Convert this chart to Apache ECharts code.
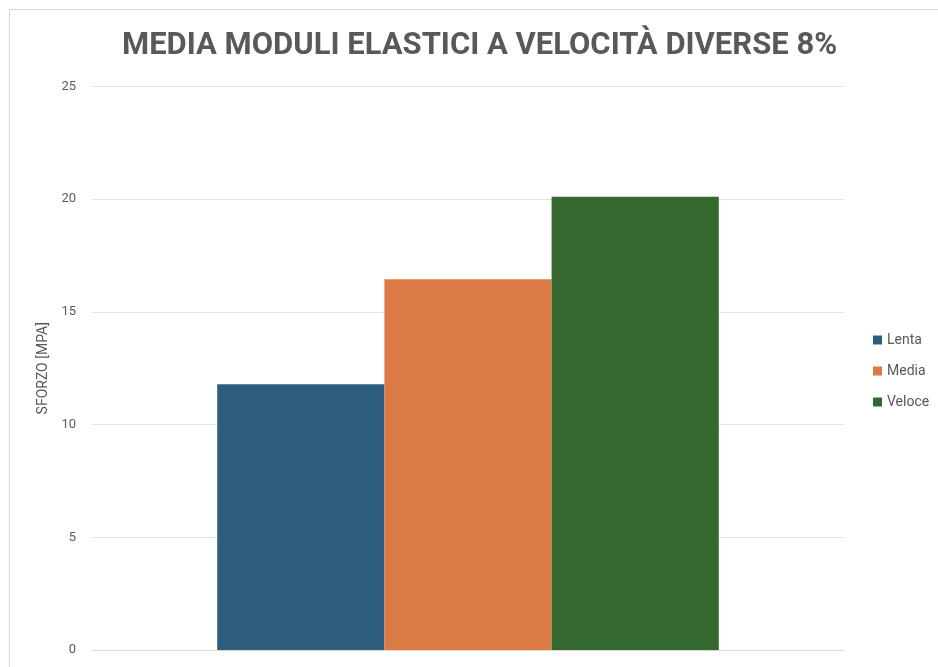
<!DOCTYPE html>
<html>
<head>
<meta charset="utf-8">
<script src="https://cdn.jsdelivr.net/npm/echarts@6/dist/echarts.min.js"></script>
<style>
  html, body { margin: 0; padding: 0; background: #fff; }
  #chart { width: 938px; height: 667px; }
</style>
</head>
<body>
<div id="chart"></div>
<script>
// Average elastic modulus per test speed (8% strain)
const categories = ['8%'];
const seriesNames = ['Lenta', 'Media', 'Veloce'];
const lentaValues = [11.79];
const mediaValues = [16.45];
const veloceValues = [20.11];
const yTicks = [0, 5, 10, 15, 20, 25];

const colors = ['#2d5e7e', '#dc7a45', '#34682e'];
const textColor = '#595959';
const fontFamily = 'Roboto, "Noto Sans", sans-serif';

const chart = echarts.init(document.getElementById('chart'), null, { renderer: 'canvas' });

const valueSets = [lentaValues, mediaValues, veloceValues];

chart.setOption({
  animation: false,
  backgroundColor: '#ffffff',
  color: colors,
  title: {
    text: 'MEDIA MODULI ELASTICI A VELOCITÀ DIVERSE 8%',
    left: 122,
    top: 31,
    padding: 0,
    textStyle: {
      color: textColor,
      fontFamily: fontFamily,
      fontWeight: 'bold',
      fontSize: 31
    }
  },
  graphic: [{
    type: 'rect',
    shape: { x: 9.5, y: 9.5, width: 1000, height: 1000 },
    style: { fill: 'none', stroke: '#d9d9d9', lineWidth: 1 },
    silent: true,
    z: -1
  }],
  legend: {
    orient: 'vertical',
    left: 868,
    top: 328,
    itemWidth: 9,
    itemHeight: 9,
    itemGap: 17,
    icon: 'rect',
    data: seriesNames,
    textStyle: { color: textColor, fontFamily: fontFamily, fontSize: 14 }
  },
  grid: {
    left: 92,
    right: 94,
    top: 86.5,
    bottom: 17,
    containLabel: false
  },
  xAxis: {
    type: 'category',
    data: categories,
    axisLine: { show: true, lineStyle: { color: '#d9d9d9', width: 1 } },
    axisTick: { show: false },
    axisLabel: { show: false }
  },
  yAxis: {
    type: 'value',
    min: yTicks[0],
    max: yTicks[yTicks.length - 1],
    interval: yTicks[1] - yTicks[0],
    name: 'SFORZO [MPA]',
    nameLocation: 'middle',
    nameGap: 37,
    nameTextStyle: { color: textColor, fontFamily: fontFamily, fontSize: 14 },
    axisLine: { show: false },
    axisTick: { show: false },
    axisLabel: { color: textColor, fontFamily: fontFamily, fontSize: 13, margin: 16 },
    splitLine: { lineStyle: { color: '#e3e3e3', width: 1 } }
  },
  series: seriesNames.map((name, i) => ({
    name: name,
    type: 'bar',
    data: valueSets[i],
    barGap: '0%',
    barCategoryGap: '33.3%',
    itemStyle: { color: colors[i] }
  }))
});
</script>
</body>
</html>
